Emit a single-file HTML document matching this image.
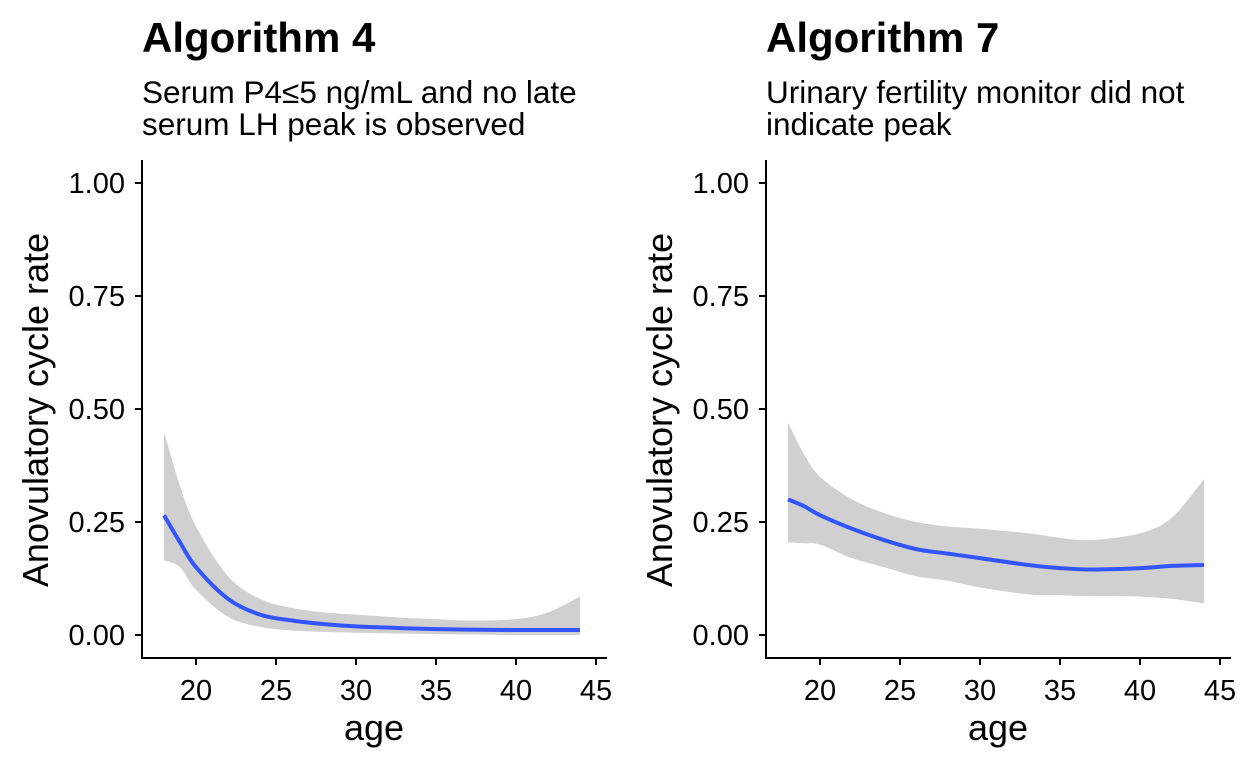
<!DOCTYPE html>
<html><head><meta charset="utf-8"><style>
body{margin:0;background:#fff;}
svg text{font-family:"Liberation Sans",Arial,sans-serif;fill:#000;}
</style></head><body>
<svg id="chart" width="1248" height="768"></svg>
<script>
const ages=[18,19,20,22,24,26,28,30,33,35,37,40,42,44];
const fit4=[0.265,0.205,0.15,0.08,0.045,0.032,0.024,0.019,0.015,0.013,0.012,0.011,0.011,0.011];
const hi4=[0.45,0.33,0.24,0.13,0.08,0.06,0.05,0.045,0.038,0.035,0.032,0.035,0.05,0.085];
const lo4=[0.165,0.15,0.1,0.04,0.018,0.01,0.007,0.005,0.003,0.002,0.001,0.0,0.0,0.0];
const fit7=[0.30,0.285,0.265,0.235,0.21,0.19,0.18,0.17,0.155,0.148,0.145,0.148,0.153,0.155];
const hi7=[0.47,0.40,0.35,0.30,0.27,0.25,0.24,0.235,0.225,0.215,0.21,0.225,0.26,0.345];
const lo7=[0.205,0.203,0.20,0.17,0.15,0.13,0.12,0.105,0.09,0.088,0.086,0.085,0.08,0.07];
const xTicks=[20,25,30,35,40,45];
const yTicks=[0,0.25,0.5,0.75,1];
const yLabels=["0.00","0.25","0.50","0.75","1.00"];
const panels=[
 {ox:0,title:"Algorithm 4",sub:["Serum P4≤5 ng/mL and no late","serum LH peak is observed"],fit:fit4,hi:hi4,lo:lo4,name:"algorithm-4"},
 {ox:624,title:"Algorithm 7",sub:["Urinary fertility monitor did not","indicate peak"],fit:fit7,hi:hi7,lo:lo7,name:"algorithm-7"}
];
const NS="http://www.w3.org/2000/svg";
const svg=document.getElementById('chart');
function mk(tag,attrs,parent,text){const e=document.createElementNS(NS,tag);for(const k in attrs)e.setAttribute(k,attrs[k]);if(text!==undefined)e.textContent=text;(parent||svg).appendChild(e);return e;}
const yScale=v=>635-v*452;
function smooth(pts,start){
 let d=(start?'M':'L')+pts[0][0]+','+pts[0][1];
 for(let i=0;i<pts.length-1;i++){
  const p0=pts[Math.max(i-1,0)],p1=pts[i],p2=pts[i+1],p3=pts[Math.min(i+2,pts.length-1)];
  const c1=[p1[0]+(p2[0]-p0[0])/6,p1[1]+(p2[1]-p0[1])/6];
  const c2=[p2[0]-(p3[0]-p1[0])/6,p2[1]-(p3[1]-p1[1])/6];
  d+='C'+c1.join(',')+' '+c2.join(',')+' '+p2.join(',');
 }
 return d;
}
panels.forEach(p=>{
 const xs=a=>p.ox+196+(a-20)*16;
 const g=mk('g',{});
 
 
 const t=mk('text',{x:p.ox+142,y:52,'font-size':42,'font-weight':'bold'},g,p.title);
 
 
 p.sub.forEach((s,i)=>{const st=mk('text',{x:p.ox+142,y:103+i*32,'font-size':31.5},g,s);
  
  });
 const up=ages.map((a,i)=>[xs(a),yScale(p.hi[i])]);
 const dn=ages.map((a,i)=>[xs(a),yScale(p.lo[i])]).reverse();
 const band=mk('path',{d:smooth(up,true)+smooth(dn,false)+'Z',fill:'#d0d0d0'},g);
 
 
 const line=mk('path',{d:smooth(ages.map((a,i)=>[xs(a),yScale(p.fit[i])]),true),fill:'none',stroke:'#3355ff','stroke-width':4,'stroke-linejoin':'round'},g);
 
 
 const ax=p.ox+142;
 const yaxis=mk('line',{x1:ax,x2:ax,y1:160,y2:659,stroke:'#000','stroke-width':2},g);
 
 
 const xaxis=mk('line',{x1:ax-1,x2:p.ox+607,y1:658,y2:658,stroke:'#000','stroke-width':2},g);
 
 
 yTicks.forEach((v,i)=>{const y=yScale(v);
  mk('line',{x1:ax-7,x2:ax,y1:y,y2:y,stroke:'#000','stroke-width':2},g);
  const tl=mk('text',{x:ax-17,y:y+10,'font-size':29,'text-anchor':'end'},g,yLabels[i]);
  
  });
 xTicks.forEach(v=>{const x=xs(v);
  mk('line',{x1:x,x2:x,y1:658,y2:665,stroke:'#000','stroke-width':2},g);
  const tl=mk('text',{x:x,y:700,'font-size':29,'text-anchor':'middle'},g,String(v));
  
  });
 const xt=mk('text',{x:p.ox+374,y:740,'font-size':36,'text-anchor':'middle'},g,'age');
 
 
 const yt=mk('text',{x:0,y:0,'font-size':36,'text-anchor':'middle',transform:'translate('+(p.ox+48)+',410) rotate(-90)'},g,'Anovulatory cycle rate');
 
 
});
</script>
</body></html>
